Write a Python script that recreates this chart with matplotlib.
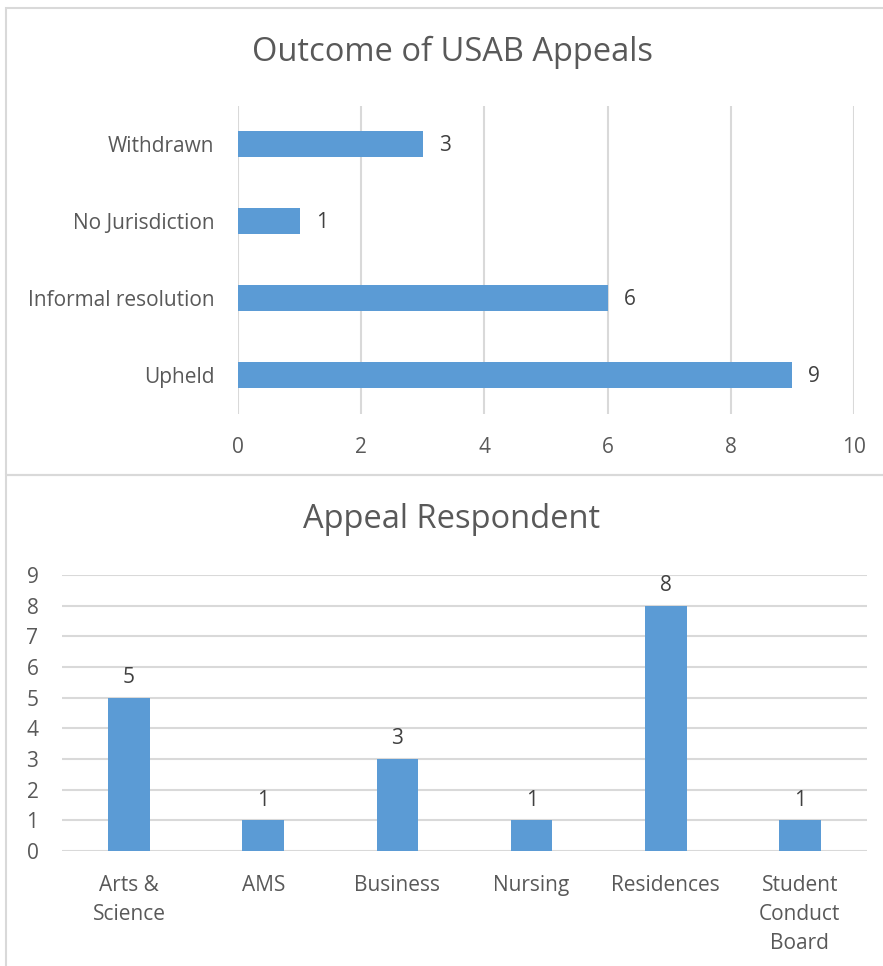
import matplotlib.pyplot as plt
from matplotlib.patches import Rectangle

# outcome chart
outcome_labels = ['Upheld', 'Informal resolution', 'No Jurisdiction', 'Withdrawn']
outcome_counts = [9, 6, 1, 3]

# respondent chart
respondent_labels = ['Arts &\nScience', 'AMS', 'Business', 'Nursing', 'Residences',
                     'Student\nConduct\nBoard']
respondent_counts = [5, 1, 3, 1, 8, 1]

BAR = '#5B9BD5'
TXT = '#595959'
VAL = '#404040'
GRID = '#D9D9D9'

plt.rcParams['font.family'] = ['Open Sans', 'DejaVu Sans']

W, H = 883, 966
fig = plt.figure(figsize=(W / 100, H / 100), dpi=100)


def px_axes(left, top, right, bottom):
    return fig.add_axes([left / W, 1 - bottom / H, (right - left) / W, (bottom - top) / H])


# chart frames
fig.patches.append(Rectangle((6 / W, 1 - 475 / H), 1.0, 467 / H, transform=fig.transFigure,
                             fill=False, edgecolor=GRID, linewidth=1.5))
fig.patches.append(Rectangle((6 / W, -0.05), 1.0, (966 - 475) / H + 0.05, transform=fig.transFigure,
                             fill=False, edgecolor=GRID, linewidth=1.5))

# --- top: horizontal bars ---
ax1 = px_axes(238, 105.5, 854, 413.5)
y = range(len(outcome_labels))
ax1.barh(y, outcome_counts, height=0.35, color=BAR, zorder=3)
ax1.set_xlim(0, 10)
ax1.set_ylim(-0.5, len(outcome_labels) - 0.5)
ax1.set_xticks(range(0, 11, 2))
ax1.set_yticks(list(y))
ax1.set_yticklabels(outcome_labels)
ax1.xaxis.grid(True, color=GRID, linewidth=1.5, zorder=0)
for s in ax1.spines.values():
    s.set_visible(False)
ax1.tick_params(length=0, colors=TXT, labelsize=15)
ax1.tick_params(axis='x', pad=17)
ax1.tick_params(axis='y', pad=17)
for yi, v in zip(y, outcome_counts):
    ax1.annotate(str(v), (v, yi), xytext=(11.5, -1), textcoords='offset points',
                 va='center', ha='left', fontsize=15, color=VAL)
fig.text(452 / W, 1 - 52 / H, 'Outcome of USAB Appeals', ha='center', va='center',
         fontsize=23.5, color=TXT)

# --- bottom: vertical bars ---
ax2 = px_axes(62, 575, 867, 851)
x = range(len(respondent_labels))
ax2.bar(x, respondent_counts, width=0.31, color=BAR, zorder=3)
ax2.set_xlim(-0.5, len(respondent_labels) - 0.5)
ax2.set_ylim(0, 9)
ax2.set_yticks(range(10))
ax2.set_xticks(list(x))
ax2.set_xticklabels(respondent_labels, linespacing=1.5)
ax2.yaxis.grid(True, color=GRID, linewidth=1.5, zorder=0)
for s in ax2.spines.values():
    s.set_visible(False)
ax2.tick_params(length=0, colors=TXT, labelsize=15)
ax2.tick_params(axis='y', pad=17)
ax2.tick_params(axis='x', pad=17)
for xi, v in zip(x, respondent_counts):
    ax2.annotate(str(v), (xi, v), xytext=(0, 7), textcoords='offset points',
                 va='bottom', ha='center', fontsize=15, color=VAL)
fig.text(452 / W, 1 - 520 / H, 'Appeal Respondent', ha='center', va='center',
         fontsize=23.5, color=TXT)

fig.savefig('out.png', dpi=100, facecolor='white')
